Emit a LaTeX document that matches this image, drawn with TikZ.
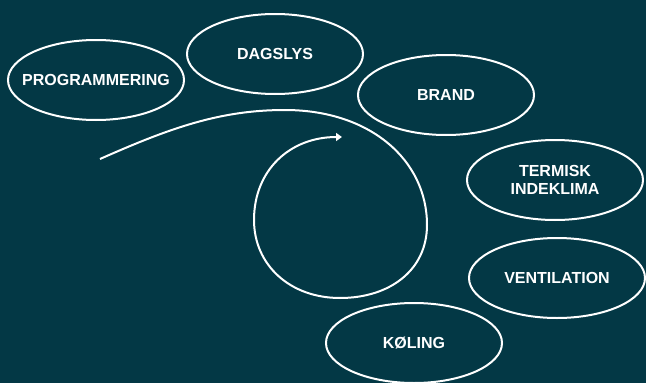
\documentclass[tikz,border=0pt]{standalone}
\usepackage{fontspec}
\setmainfont{Liberation Sans}
\definecolor{Backdrop}{rgb}{0.012, 0.22, 0.27}
\usepackage{tikz}
\usetikzlibrary{shapes.geometric,arrows.meta,positioning}
\tikzset{topic layout/.style={%
    y=-1pt,%
    x=1pt,%
    every node/.style={%
        ellipse, draw=white, line width=2pt, inner xsep=-16pt, inner ysep=0pt,%
        minimum width=176pt, minimum height=80pt,%
        text=white, align=center,%
        font=\bfseries\fontsize{16}{17.5}\selectfont%
    }%
}}
\tikzset{loop line/.style={%
    white, line width=2pt, -{Triangle[width=8pt,length=6pt]}%
}}

\begin{document}
\begin{tikzpicture}[topic layout]
    \fill[Backdrop] (0,0) rectangle (646,383);
    \useasboundingbox (0,0) rectangle (646,383);

    \foreach \name/\x/\y/\txt in {%
        prog/96/80/{PROGRAMMERING},
        dags/275/54/{DAGSLYS},
        brand/446/95/{BRAND},
        termisk/555/180/{TERMISK\\INDEKLIMA},
        vent/557/278/{VENTILATION},
        koel/414/343/{KØLING}} {
        \node (\name) at (\x,\y) {\txt};
    }

    % the loop
    \coordinate (start) at (100,159);
    \coordinate (tip) at (342,137);
    \draw[loop line] (start)
        .. controls (170,128) and (220,110) .. (285,110)
        .. controls (370,110) and (427,160) .. (427,225)
        .. controls (427,270) and (390,298) .. (340,298)
        .. controls (290,298) and (254,265) .. (254,220)
        .. controls (254,170) and (290,137) .. (tip);
\end{tikzpicture}
\end{document}
